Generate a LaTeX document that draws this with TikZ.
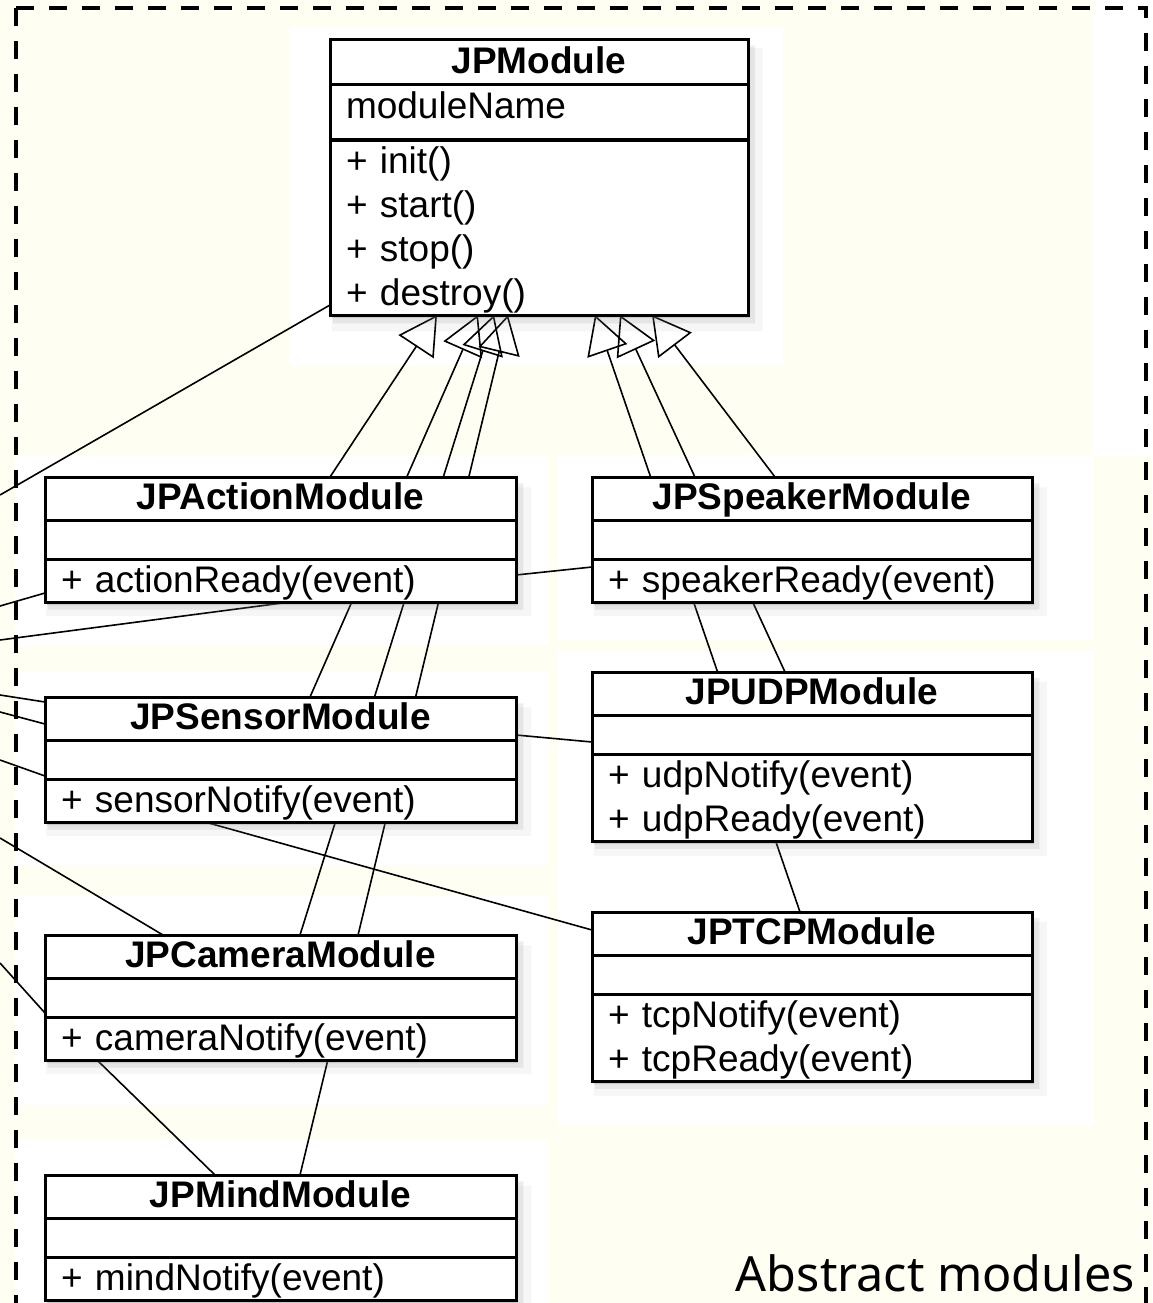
\documentclass[tikz,border=0pt]{standalone}
\usepackage{fontspec}
\setmainfont{Liberation Sans}
\newfontfamily\notefont{Noto Sans}
\usetikzlibrary{shapes.multipart}
\usetikzlibrary{shadows}
\usetikzlibrary{arrows.meta}
\definecolor{cream}{RGB}{254,254,243}
\pgfdeclarelayer{bg}
\pgfdeclarelayer{lines}
\pgfsetlayers{bg,lines,main}
% row heights of the class boxes
\newcommand{\titlerow}{\rule[-9pt]{0pt}{40pt}}
\newcommand{\emptyrow}{\rule{0pt}{36pt}}
\newcommand{\methrow}{\rule[-8pt]{0pt}{40pt}}
\newcommand{\classtitle}[1]{\makebox[\hsize][c]{\bfseries\titlerow#1}}
\tikzset{
  classbox/.style={rectangle split, rectangle split parts=3, draw,
    line width=3pt, fill=white, inner xsep=16pt, inner ysep=0pt,
    outer sep=0pt, anchor=north west,
    font=\fontsize{37}{44}\selectfont,
    drop shadow={shadow xshift=2pt, shadow yshift=-3pt, opacity=.28},
    drop shadow={shadow xshift=5pt, shadow yshift=-7pt, opacity=.14,
      shadow scale=1.01},
    drop shadow={shadow xshift=8pt, shadow yshift=-12pt, opacity=.07,
      shadow scale=1.03}},
  assoc/.style={line width=1.6pt},
  inherit/.style={line width=1.6pt,
    -{Triangle[open, length=38pt, width=42pt]}},
  notetext/.style={font=\notefont\fontsize{48.5}{56}\selectfont, inner sep=0pt}
}
\begin{document}
\begin{tikzpicture}[x=1pt, y=-1pt]
  \useasboundingbox (0,0) rectangle (1152,1303);

  % background, cream with white patches
  \begin{pgfonlayer}{bg}
    \fill[cream] (0,0) rectangle (1152,1303);
    \fill[white] (290,28) rectangle (783,365);
    \fill[white] (1093,0) rectangle (1152,455);
    \fill[white] (15,455) rectangle (548,645);
    \fill[white] (558,455) rectangle (1093,640);
    \fill[white] (15,672) rectangle (548,865);
    \fill[white] (558,652) rectangle (1093,1125);
    \fill[white] (15,895) rectangle (548,1105);
    \fill[white] (15,1140) rectangle (548,1303);
  \end{pgfonlayer}

  % the base class
  \node[classbox, text width=386pt] (jpmodule) at (330,40)
    {\makebox[\hsize][c]{\bfseries\rule[-10pt]{0pt}{42pt}JPModule}
     \nodepart{two}\rule[-20pt]{0pt}{52pt}moduleName
     \nodepart{three}\methrow+ init()\\ \methrow+ start()\\
       \methrow+ stop()\\ \methrow+ destroy()};

  % classes with one method
  \foreach \nm/\px/\py/\tw/\ttl/\mth in {
      action/45/477/439/JPActionModule/actionReady,
      speaker/592/477/408/JPSpeakerModule/speakerReady,
      sensor/45/697/439/JPSensorModule/sensorNotify,
      camera/45/935/439/JPCameraModule/cameraNotify,
      mind/45/1175/439/JPMindModule/mindNotify}
    \node[classbox, text width=\tw pt] (\nm) at (\px,\py)
      {\classtitle{\ttl}
       \nodepart{two}\emptyrow
       \nodepart{three}\methrow+ \mth(event)};

  % classes with two methods
  \foreach \nm/\py/\ttl/\mth in {
      udp/672/JPUDPModule/udp,
      tcp/912/JPTCPModule/tcp}
    \node[classbox, text width=408pt] (\nm) at (592,\py)
      {\classtitle{\ttl}
       \nodepart{two}\emptyrow
       \nodepart{three}\methrow+ \mth Notify(event)\\ \methrow+ \mth Ready(event)};

  % ends of the lines that leave the picture
  \coordinate (ext1) at (0,495);
  \coordinate (ext2) at (0,606);
  \coordinate (ext3) at (0,640);
  \coordinate (ext4) at (0,695);
  \coordinate (ext5) at (0,712);
  \coordinate (ext6) at (0,760);
  \coordinate (ext7) at (0,838);
  \coordinate (ext8) at (0,963);

  \begin{pgfonlayer}{lines}
    % generalisations
    \draw[inherit] ([xshift=285pt]action.north west) -- ([xshift=107pt]jpmodule.south west);
    \draw[inherit] ([xshift=265pt]sensor.north west) -- ([xshift=148pt]jpmodule.south west);
    \draw[inherit] ([xshift=255pt]camera.north west) -- ([xshift=164pt]jpmodule.south west);
    \draw[inherit] ([xshift=255pt]mind.north west) -- ([xshift=178pt]jpmodule.south west);
    \draw[inherit] ([xshift=183pt]speaker.north west) -- ([xshift=322pt]jpmodule.south west);
    \draw[inherit] ([xshift=193pt]udp.north west) -- ([xshift=290pt]jpmodule.south west);
    \draw[inherit] ([xshift=208pt]tcp.north west) -- ([xshift=265pt]jpmodule.south west);

    % associations
    \draw[assoc] ([yshift=10pt]jpmodule.south west) -- (ext1);
    \draw[assoc] ([yshift=9pt]action.south west) -- (ext2);
    \draw[assoc] ([xshift=245pt]action.south west) -- (ext3);
    \draw[assoc] ([yshift=-5pt]sensor.north west) -- (ext4);
    \draw[assoc] ([yshift=-27pt]sensor.north west) -- (ext5);
    \draw[assoc] ([yshift=-79pt]sensor.north west) -- (ext6);
    \draw[assoc] ([xshift=118pt]camera.north west) -- (ext7);
    \draw[assoc] ([yshift=-78pt]camera.north west) -- (ext8);
    \draw[assoc] ([xshift=52pt]camera.south west) -- ([xshift=170pt]mind.north west);
    \draw[assoc] ([xshift=160pt]sensor.south west) -- ([yshift=-18pt]tcp.north west);
    \draw[assoc] ([yshift=-38pt]sensor.north east) -- ([yshift=-70pt]udp.north west);
    \draw[assoc] ([yshift=-98pt]action.north east) -- ([yshift=-90pt]speaker.north west);
  \end{pgfonlayer}

  % dashed frame
  \draw[line width=4pt, dash pattern=on 18pt off 15pt] (16,8) -- (1146,8) -- (1146,1330);
  \draw[line width=4pt, dash pattern=on 18pt off 15pt] (16,8) -- (16,1330);

  \node[notetext, anchor=base east] (caption) at (1135,1291) {Abstract modules};
\end{tikzpicture}
\end{document}
